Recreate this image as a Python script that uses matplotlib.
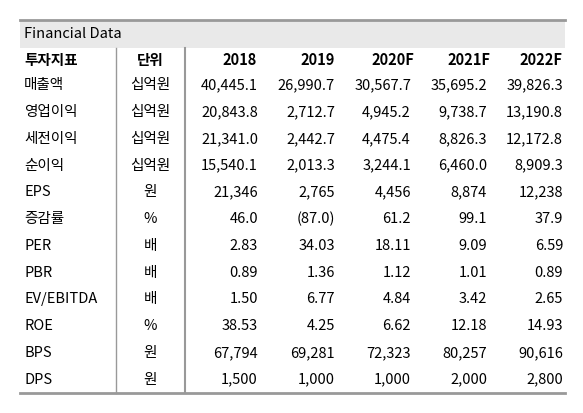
import matplotlib.pyplot as plt

plt.rcParams['font.family'] = ['Noto Sans CJK KR', 'DejaVu Sans']

title = 'Financial Data'
header = ['투자지표', '단위', '2018', '2019', '2020F', '2021F', '2022F']
items = ['매출액', '영업이익', '세전이익', '순이익', 'EPS', '증감률', 'PER', 'PBR',
         'EV/EBITDA', 'ROE', 'BPS', 'DPS']
units = ['십억원', '십억원', '십억원', '십억원', '원', '%', '배', '배', '배', '%', '원', '원']
v2018 = ['40,445.1', '20,843.8', '21,341.0', '15,540.1', '21,346', '46.0', '2.83', '0.89', '1.50', '38.53', '67,794', '1,500']
v2019 = ['26,990.7', '2,712.7', '2,442.7', '2,013.3', '2,765', '(87.0)', '34.03', '1.36', '6.77', '4.25', '69,281', '1,000']
v2020 = ['30,567.7', '4,945.2', '4,475.4', '3,244.1', '4,456', '61.2', '18.11', '1.12', '4.84', '6.62', '72,323', '1,000']
v2021 = ['35,695.2', '9,738.7', '8,826.3', '6,460.0', '8,874', '99.1', '9.09', '1.01', '3.42', '12.18', '80,257', '2,000']
v2022 = ['39,826.3', '13,190.8', '12,172.8', '8,909.3', '12,238', '37.9', '6.59', '0.89', '2.65', '14.93', '90,616', '2,800']
values = [v2018, v2019, v2020, v2021, v2022]

W, H = 583, 413
fig = plt.figure(figsize=(W / 100, H / 100), dpi=100)
ax = fig.add_axes([0, 0, 1, 1])
ax.set_xlim(0, W)
ax.set_ylim(H, 0)
ax.axis('off')

left, right = 20, 565
top, title_bot, head_bot, bottom = 20, 48, 72, 393
row_h = (bottom - head_bot) / len(items)
num_right = [258, 335, 411, 487, 563]
head_x = [240, 318, 393, 469, 541]
fs = 10.5

ax.fill_between([left, right], top, title_bot, color='#e9e9e9', lw=0)
ax.plot([left, right], [top, top], color='#999999', lw=2)
ax.plot([left, right], [bottom, bottom], color='#999999', lw=2)
ax.plot([116, 116], [title_bot, bottom], color='#999999', lw=1)
ax.plot([185, 185], [title_bot, bottom], color='#999999', lw=1.5)

ax.text(24, (top + title_bot) / 2, title, fontsize=fs, va='center', ha='left')

hy = (title_bot + head_bot) / 2
ax.text(24, hy, header[0], fontsize=fs, va='center', ha='left', weight='bold')
ax.text(150, hy, header[1], fontsize=fs, va='center', ha='center', weight='bold')
for x, h in zip(head_x, header[2:]):
    ax.text(x, hy, h, fontsize=fs, va='center', ha='center', weight='bold')

for i, (item, unit) in enumerate(zip(items, units)):
    y = head_bot + row_h * (i + 0.5)
    ax.text(24, y, item, fontsize=fs, va='center', ha='left')
    ax.text(150, y, unit, fontsize=fs, va='center', ha='center')
    for x, col in zip(num_right, values):
        ax.text(x, y, col[i], fontsize=fs, va='center', ha='right')

fig.savefig('out.png', dpi=100)
